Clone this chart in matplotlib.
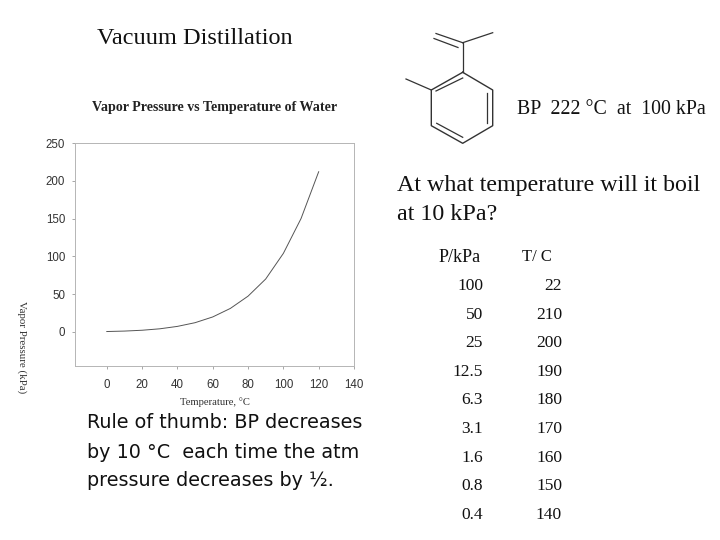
import matplotlib
matplotlib.use('Agg')
import matplotlib.pyplot as plt

# water curve
temp_c = [0, 10, 20, 30, 40, 50, 60, 70, 80, 90, 100, 110, 120]
vp_kpa = [0.6, 1.2, 2.3, 4.2, 7.4, 12.3, 19.9, 31.2, 47.4, 70.1, 104, 150, 212]
x_ticks = [0, 20, 40, 60, 80, 100, 120, 140]
y_ticks = [0, 50, 100, 150, 200, 250]

# table on the right
p_labels = ['100', '50', '25', '12.5', '6.3', '3.1', '1.6', '0.8', '0.4']
t_labels = ['22', '210', '200', '190', '180', '170', '160', '150', '140']
row_y = [285, 314, 342, 371, 399, 428, 457, 485, 514]

# molecule outline in slide pixels
ring_x = [462.7, 492.7, 492.7, 462.7, 431.3, 431.3, 462.7]
ring_y = [72.3, 90, 125.7, 143.3, 125.7, 90, 72.3]
bonds = [
  ((431.3, 406), (90, 79)),
  ((462.7, 462.7), (72.3, 42.7)),
  ((462.7, 492.7), (42.7, 32.7)),
  ((462.7, 436), (42.7, 33.5)),
  ((458, 434), (47.5, 38.5)),
  ((487.3, 487.3), (92.7, 122.7)),
  ((436.7, 462.7), (123.3, 137.3)),
  ((436, 462.7), (91, 78)),
]

SERIF = 'Liberation Serif'
SANS = 'Liberation Sans'
INK = '#111111'

fig = plt.figure(figsize=(7.2, 5.4), dpi=100)

# whole slide in pixel coords, for text and the molecule
slide = fig.add_axes([0, 0, 1, 1])
slide.set_xlim(0, 720)
slide.set_ylim(540, 0)
slide.axis('off')

slide.plot(ring_x, ring_y, color='#333333', lw=1.0)
for bx, by in bonds:
  slide.plot(bx, by, color='#333333', lw=0.9)

slide.text(97, 38, 'Vacuum Distillation', family=SERIF, fontsize=17.5, va='center', color=INK)
slide.text(517, 109, 'BP  222 °C  at  100 kPa', family=SERIF, fontsize=14.3, va='center', color=INK)
slide.text(397, 185, 'At what temperature will it boil', family=SERIF, fontsize=17.3, va='center', color=INK)
slide.text(397, 214, 'at 10 kPa?', family=SERIF, fontsize=17.3, va='center', color=INK)
slide.text(87, 423, 'Rule of thumb: BP decreases', family='DejaVu Sans', fontsize=13.8, va='center', color=INK)
slide.text(87, 452, 'by 10 °C  each time the atm', family='DejaVu Sans', fontsize=13.8, va='center', color=INK)
slide.text(87, 481, 'pressure decreases by ½.', family='DejaVu Sans', fontsize=13.8, va='center', color=INK)

slide.text(439, 257, 'P/kPa', family=SERIF, fontsize=13, va='center', color=INK)
slide.text(522, 257, 'T/ C', family=SERIF, fontsize=12, va='center', color=INK)
for p, t, y in zip(p_labels, t_labels, row_y):
  slide.text(483, y + 1, p, family=SERIF, fontsize=12.5, ha='right', va='center', color=INK)
  slide.text(562, y + 1, t, family=SERIF, fontsize=12.5, ha='right', va='center', color=INK)

slide.text(215, 108, 'Vapor Pressure vs Temperature of Water', family=SERIF, fontsize=10.1, weight='bold',
           ha='center', va='center', color='#222222')
slide.text(215, 402, 'Temperature, °C', family=SERIF, fontsize=7.7, ha='center', va='center', color='#333333')
slide.text(22, 347.5, 'Vapor Pressure (kPa)', family=SERIF, fontsize=7.8, rotation=270, ha='center', va='center', color='#333333')

# the chart itself
ax = fig.add_axes([75/720, 1 - 366/540, 279/720, 223/540])
ax.plot(temp_c, vp_kpa, color='#555555', lw=0.7)
ax.set_xlim(-18, 140)
ax.set_ylim(-45, 250)
ax.set_xticks(x_ticks)
ax.set_yticks(y_ticks)
ax.tick_params(labelsize=8.3, length=2, width=0.6, color='#999999', labelcolor='#333333')
ax.tick_params(axis='x', pad=7.5)
ax.tick_params(axis='y', pad=5)
for label in ax.get_xticklabels() + ax.get_yticklabels():
  label.set_family(SANS)
for side in ax.spines.values():
  side.set_color('#b5b5b5')
  side.set_linewidth(0.7)

fig.savefig('out.png', dpi=100)
